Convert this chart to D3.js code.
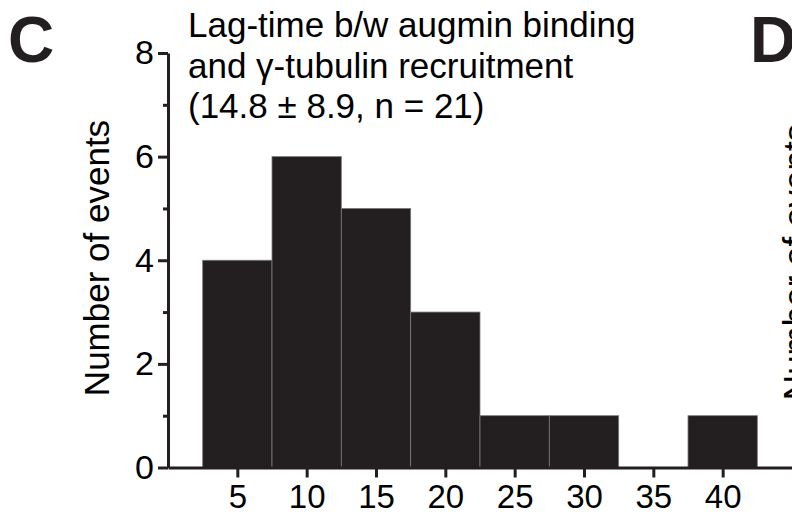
<!DOCTYPE html>
<html>
<head>
<meta charset="utf-8">
<script src="https://cdn.jsdelivr.net/npm/d3@7"></script>
<style>
  html, body { margin: 0; padding: 0; background: #fff; }
  svg { display: block; font-family: Arial, "Liberation Sans", Helvetica, sans-serif; }
</style>
</head>
<body>
<svg id="chart" width="792" height="516"></svg>
<script>
// ---- data ----
const binStarts = [2.5, 7.5, 12.5, 17.5, 22.5, 27.5, 32.5, 37.5];
const binWidth = 5;
const counts = [4, 6, 5, 3, 1, 1, 0, 1];
const xTicks = [5, 10, 15, 20, 25, 30, 35, 40];
const yMajorTicks = [0, 2, 4, 6, 8];
const yMinorTicks = [1, 3, 5, 7];
const titleLines = ["Lag-time b/w augmin binding", "and γ-tubulin recruitment", "(14.8 ± 8.9, n = 21)"];
const yLabel = "Number of events";
const panelLabels = ["C", "D"];

const svg = d3.select("#chart");
const ink = "#231f20";
const font = "Arial, 'Liberation Sans', sans-serif";

const x = d3.scaleLinear().domain([0, 45]).range([168, 792]);
const y = d3.scaleLinear().domain([0, 8]).range([467.5, 53]);

// bars
svg.append("g").selectAll("rect")
  .data(binStarts.map((s, i) => ({ s, c: counts[i] })).filter(d => d.c > 0))
  .join("rect")
  .attr("x", d => x(d.s))
  .attr("y", d => y(d.c))
  .attr("width", d => x(d.s + binWidth) - x(d.s))
  .attr("height", d => y(0) - y(d.c))
  .attr("fill", ink)
  .attr("stroke", "#7a7a7a")
  .attr("stroke-width", 0.8);

// y axis (major)
const yAxis = d3.axisLeft(y).tickValues(yMajorTicks).tickSize(10).tickPadding(4).tickSizeOuter(0);
const gy = svg.append("g").attr("transform", `translate(${x(0)},0)`).call(yAxis);
gy.select(".domain").attr("stroke", ink).attr("stroke-width", 3);
gy.selectAll(".tick line").attr("stroke", ink).attr("stroke-width", 3);
gy.selectAll(".tick text").attr("fill", "#000").style("font-size", "34px").style("font-family", font);

// y minor ticks
const yMinor = d3.axisLeft(y).tickValues(yMinorTicks).tickSize(5).tickFormat("").tickSizeOuter(0);
const gym = svg.append("g").attr("transform", `translate(${x(0)},0)`).call(yMinor);
gym.select(".domain").remove();
gym.selectAll(".tick line").attr("stroke", ink).attr("stroke-width", 3);

// x axis
const xAxis = d3.axisBottom(x).tickValues(xTicks).tickSize(10).tickPadding(7).tickSizeOuter(0);
const gx = svg.append("g").attr("transform", `translate(0,${y(0)})`).call(xAxis);
gx.select(".domain").attr("stroke", ink).attr("stroke-width", 3);
gx.selectAll(".tick line").attr("stroke", ink).attr("stroke-width", 3);
gx.selectAll(".tick text").attr("fill", "#000").style("font-size", "33px").style("font-family", font);

// title
const title = svg.append("text").attr("x", 188).attr("y", 37)
  .style("font-size", "35px").attr("fill", "#000");
titleLines.forEach((t, i) => {
  title.append("tspan").attr("x", 188).attr("y", 37 + i * 40.5).text(t);
});

// y label
svg.append("text")
  .attr("transform", `translate(109,258) rotate(-90)`)
  .attr("text-anchor", "middle")
  .style("font-size", "35px")
  .attr("fill", "#000")
  .text(yLabel);

// panel D's y label (partially visible at right edge, as in the reference)
svg.append("text")
  .attr("transform", `translate(808,262) rotate(-90)`)
  .attr("text-anchor", "middle")
  .style("font-size", "35px")
  .attr("fill", "#000")
  .text(yLabel);

// panel letters
svg.append("text").attr("x", 8).attr("y", 62)
  .style("font-size", "64px").style("font-weight", "bold").attr("fill", ink)
  .text(panelLabels[0]);
svg.append("text").attr("x", 750).attr("y", 62)
  .style("font-size", "64px").style("font-weight", "bold").attr("fill", ink)
  .text(panelLabels[1]);
</script>
</body>
</html>
